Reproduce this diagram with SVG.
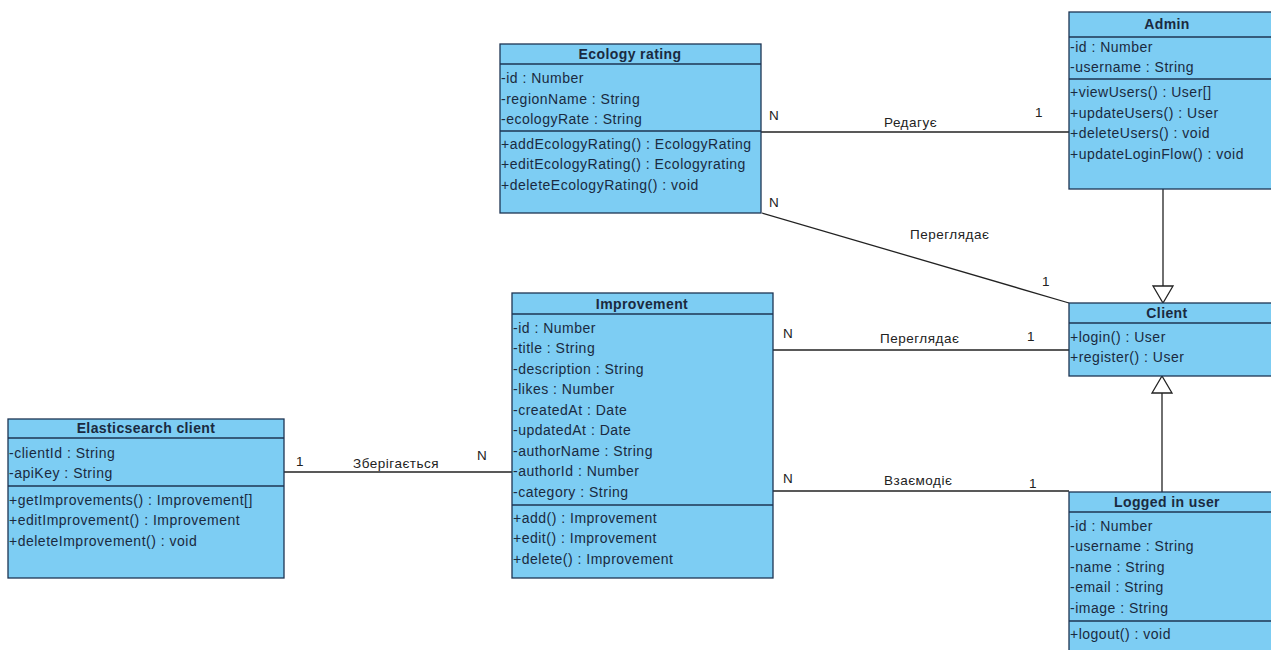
<svg xmlns="http://www.w3.org/2000/svg" width="1271" height="650" viewBox="0 0 1271 650">
<style>
.box{fill:#7dcdf3;stroke:#1e3553;stroke-width:1.3}
.sep{stroke:#1e3553;stroke-width:1.3}
.t{font-family:"Liberation Sans",Arial,sans-serif;font-size:14px;letter-spacing:0.5px;fill:#1a2a40}
.h{font-family:"Liberation Sans",Arial,sans-serif;font-size:14px;letter-spacing:0.4px;font-weight:bold;fill:#1a2a40;text-anchor:middle}
.c{stroke:#222;stroke-width:1.3;fill:none}
.tri{fill:#fff;stroke:#222;stroke-width:1.3}
.l{font-family:"Liberation Sans",Arial,sans-serif;font-size:13.5px;letter-spacing:0.5px;fill:#222}
</style>
<rect width="1271" height="650" fill="#fff"/>
<g id="connectors">
<line class="c" x1="761" y1="132" x2="1069" y2="132"/>
<line class="c" x1="762" y1="213" x2="1069" y2="303"/>
<line class="c" x1="773" y1="350" x2="1069" y2="350"/>
<line class="c" x1="773" y1="491" x2="1069" y2="491"/>
<line class="c" x1="284" y1="472" x2="512" y2="472"/>
<line class="c" x1="1163" y1="189" x2="1163" y2="286"/>
<polygon class="tri" points="1153,286 1173,286 1163,303"/>
<line class="c" x1="1162" y1="492" x2="1162" y2="393"/>
<polygon class="tri" points="1152,393 1172,393 1162,376"/>
<text class="l" x="769" y="120">N</text>
<text class="l" x="884" y="127">Редагує</text>
<text class="l" x="1035" y="117">1</text>
<text class="l" x="769" y="207">N</text>
<text class="l" x="910" y="239">Переглядає</text>
<text class="l" x="1042" y="286">1</text>
<text class="l" x="783" y="338">N</text>
<text class="l" x="880" y="343">Переглядає</text>
<text class="l" x="1027" y="341">1</text>
<text class="l" x="783" y="483">N</text>
<text class="l" x="884" y="485">Взаємодіє</text>
<text class="l" x="1029" y="488">1</text>
<text class="l" x="296" y="466">1</text>
<text class="l" x="353" y="468">Зберігається</text>
<text class="l" x="477" y="460">N</text>
</g>
<g id="ecology-rating">
<rect class="box" x="500" y="44" width="261" height="169"/>
<line class="sep" x1="500" y1="64" x2="761" y2="64"/>
<line class="sep" x1="500" y1="131" x2="761" y2="131"/>
<text class="h" x="630" y="59">Ecology rating</text>
<text class="t" x="501" y="83">-id : Number</text>
<text class="t" x="501" y="103.5">-regionName : String</text>
<text class="t" x="501" y="124">-ecologyRate : String</text>
<text class="t" x="501" y="148.5">+addEcologyRating() : EcologyRating</text>
<text class="t" x="501" y="169">+editEcologyRating() : Ecologyrating</text>
<text class="t" x="501" y="189.5">+deleteEcologyRating() : void</text>
</g>
<g id="admin">
<rect class="box" x="1069" y="12" width="210" height="177"/>
<line class="sep" x1="1069" y1="37" x2="1279" y2="37"/>
<line class="sep" x1="1069" y1="79" x2="1279" y2="79"/>
<text class="h" x="1167" y="29">Admin</text>
<text class="t" x="1070" y="51.5">-id : Number</text>
<text class="t" x="1070" y="72">-username : String</text>
<text class="t" x="1070" y="97">+viewUsers() : User[]</text>
<text class="t" x="1070" y="117.5">+updateUsers() : User</text>
<text class="t" x="1070" y="138">+deleteUsers() : void</text>
<text class="t" x="1070" y="158.5">+updateLoginFlow() : void</text>
</g>
<g id="client">
<rect class="box" x="1069" y="303" width="210" height="73"/>
<line class="sep" x1="1069" y1="323" x2="1279" y2="323"/>
<text class="h" x="1167" y="318">Client</text>
<text class="t" x="1070" y="341.5">+login() : User</text>
<text class="t" x="1070" y="362">+register() : User</text>
</g>
<g id="improvement">
<rect class="box" x="512" y="293" width="261" height="285"/>
<line class="sep" x1="512" y1="314" x2="773" y2="314"/>
<line class="sep" x1="512" y1="505" x2="773" y2="505"/>
<text class="h" x="642" y="309">Improvement</text>
<text class="t" x="513" y="332.5">-id : Number</text>
<text class="t" x="513" y="353">-title : String</text>
<text class="t" x="513" y="373.5">-description : String</text>
<text class="t" x="513" y="394">-likes : Number</text>
<text class="t" x="513" y="414.5">-createdAt : Date</text>
<text class="t" x="513" y="435">-updatedAt : Date</text>
<text class="t" x="513" y="455.5">-authorName : String</text>
<text class="t" x="513" y="476">-authorId : Number</text>
<text class="t" x="513" y="496.5">-category : String</text>
<text class="t" x="513" y="522.5">+add() : Improvement</text>
<text class="t" x="513" y="543">+edit() : Improvement</text>
<text class="t" x="513" y="563.5">+delete() : Improvement</text>
</g>
<g id="logged-in-user">
<rect class="box" x="1069" y="492" width="210" height="170"/>
<line class="sep" x1="1069" y1="512" x2="1279" y2="512"/>
<line class="sep" x1="1069" y1="621" x2="1279" y2="621"/>
<text class="h" x="1167" y="507">Logged in user</text>
<text class="t" x="1070" y="530.5">-id : Number</text>
<text class="t" x="1070" y="551">-username : String</text>
<text class="t" x="1070" y="571.5">-name : String</text>
<text class="t" x="1070" y="592">-email : String</text>
<text class="t" x="1070" y="612.5">-image : String</text>
<text class="t" x="1070" y="638.5">+logout() : void</text>
</g>
<g id="elasticsearch-client">
<rect class="box" x="8" y="419" width="276" height="159"/>
<line class="sep" x1="8" y1="438" x2="284" y2="438"/>
<line class="sep" x1="8" y1="486" x2="284" y2="486"/>
<text class="h" x="146" y="433">Elasticsearch client</text>
<text class="t" x="9" y="457.5">-clientId : String</text>
<text class="t" x="9" y="478">-apiKey : String</text>
<text class="t" x="9" y="504.5">+getImprovements() : Improvement[]</text>
<text class="t" x="9" y="525">+editImprovement() : Improvement</text>
<text class="t" x="9" y="545.5">+deleteImprovement() : void</text>
</g>
</svg>
